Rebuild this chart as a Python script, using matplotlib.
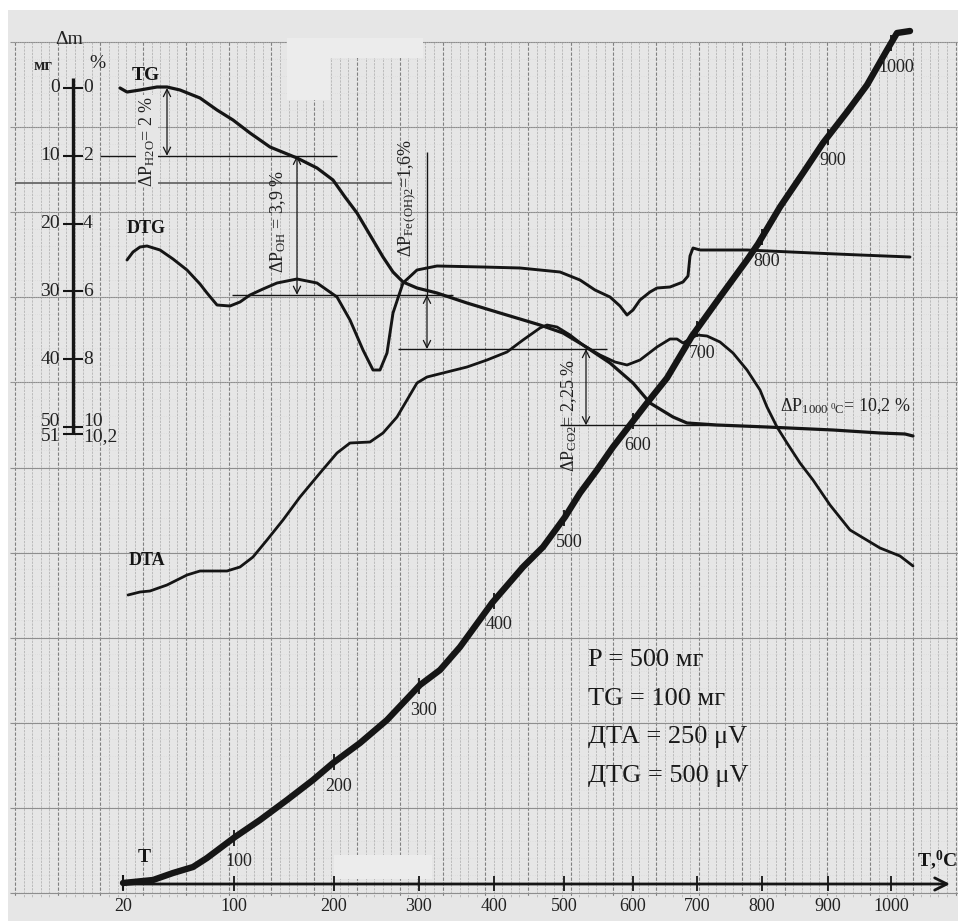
"""
Дериватограмма: TG, DTG, DTA и кривая нагрева T
"""

import numpy as np
import matplotlib
matplotlib.use('Agg')
import matplotlib.pyplot as plt
from matplotlib.patches import Rectangle

plt.rcParams['font.family'] = ['Liberation Serif', 'DejaVu Serif']
plt.rcParams['mathtext.fontset'] = 'custom'
plt.rcParams['mathtext.rm'] = 'Liberation Serif'
plt.rcParams['mathtext.it'] = 'Liberation Serif:italic'
plt.rcParams['mathtext.bf'] = 'Liberation Serif:bold'

# координаты на ленте самописца (по горизонтали - время записи, по вертикали - вниз)
TG_X = [120, 127, 140, 157, 167, 180, 200, 217, 233, 250, 270, 297, 317, 333, 345,
        357, 370, 383, 393, 403, 417, 437, 467, 500, 540, 563, 583, 610, 633, 650,
        673, 687, 717, 767, 833, 880, 905, 913]
TG_Y = [88, 92, 90, 87, 87, 90, 98, 110, 120, 133, 147, 158, 168, 180, 197,
        213, 235, 257, 272, 282, 288, 293, 303, 313, 325, 333, 345, 363, 383, 403,
        417, 423, 425, 427, 430, 433, 434, 436]

DTG_X = [127, 133, 140, 147, 160, 173, 187, 200, 207, 217, 230, 240, 250, 263, 277,
         297, 317, 337, 350, 363, 373, 380, 387, 393, 403, 417, 437, 483, 520, 560,
         580, 595, 610, 620, 627, 633, 640, 650, 657, 670, 683, 688, 690, 693, 700,
         747, 813, 860, 910]
DTG_Y = [260, 252, 247, 246, 250, 259, 270, 284, 293, 305, 306, 302, 295, 289, 283,
         279, 283, 297, 320, 350, 370, 370, 353, 313, 283, 270, 266, 267, 268, 272,
         280, 290, 297, 306, 315, 310, 300, 292, 288, 287, 282, 276, 256, 248, 250,
         250, 253, 255, 257]

DTA_X = [128, 140, 150, 167, 187, 200, 227, 240, 253, 267, 283, 300, 320, 337, 350,
         370, 383, 397, 407, 417, 427, 447, 467, 487, 507, 523, 540, 547, 557, 570,
         583, 600, 615, 627, 640, 657, 670, 677, 683, 697, 707, 720, 733, 747, 760,
         767, 777, 787, 800, 813, 830, 850, 880, 900, 913]
DTA_Y = [595, 592, 591, 585, 575, 571, 571, 567, 557, 540, 520, 497, 473, 453, 443,
         442, 433, 417, 400, 383, 377, 372, 367, 360, 352, 340, 328, 325, 327, 335,
         345, 355, 362, 365, 360, 347, 339, 339, 343, 335, 336, 342, 353, 370, 390,
         407, 427, 443, 463, 480, 505, 530, 548, 556, 566]

T_X = [123, 153, 173, 193, 207, 235, 260, 287, 313, 333, 360, 387, 420, 440, 460,
       492, 523, 543, 565, 580, 597, 613, 630, 647, 667, 692, 720, 747, 758, 780,
       803, 823, 847, 867, 887, 897, 910]
T_Y = [883, 880, 873, 867, 858, 837, 820, 800, 780, 763, 743, 720, 685, 670, 647,
       603, 567, 547, 517, 493, 470, 447, 425, 403, 378, 336, 297, 260, 244, 207,
       173, 143, 112, 85, 50, 33, 31]

# шкала температуры (нижняя ось) и отметки на кривой T
T_LABELS = [20, 100, 200, 300, 400, 500, 600, 700, 800, 900, 1000]
T_POS = [123, 234, 334, 419, 494, 564, 633, 697, 762, 828, 891]

# шкала потери массы
DM_MG = ['0', '10', '20', '30', '40', '50', '51']
DM_PCT = [0, 2, 4, 6, 8, 10, 10.2]
DM_PCT_TXT = ['0', '2', '4', '6', '8', '10', '10,2']

# ступени потери массы, % (уровни горизонталей)
LOSS_LEVELS = [0.0, 2.0, 6.1, 7.7, 9.95]
LOSS_ARROW_X = [167, 297, 427, 586]
LOSS_LINE_X = [(100, 337), (232, 453), (398, 607), (560, 720)]

PARAMS = ['P = 500 мг', 'TG = 100 мг', 'ДТА = 250 μV', 'ДТG = 500 μV']

PAPER = '#e6e6e6'
INK = '#151515'
Y0, PX_PER_PCT = 88, 33.9


def pct_to_y(p):
    return Y0 + np.asarray(p, dtype=float) * PX_PER_PCT


fig = plt.figure(figsize=(9.58, 9.21), dpi=100)
fig.patch.set_facecolor('white')
ax = fig.add_axes([0, 0, 1, 1])
ax.set_xlim(0, 958)
ax.set_ylim(921, 0)
ax.axis('off')

# бумага и сетка
ax.add_patch(Rectangle((8, 10), 950, 911, facecolor=PAPER, edgecolor='none', zorder=0))
gx = np.arange(15, 958, 8.55)
for i, x in enumerate(gx):
    major = (i % 5 == 0)
    ax.vlines(x, 42, 897, colors='#808080' if major else '#b0b0b0',
              lw=0.8 if major else 0.55, linestyles=(0, (3, 1.5)), zorder=1)
ax.hlines(np.arange(42, 900, 85.1), 10, 958, colors='#8e8e8e', lw=0.8, zorder=1)
ax.hlines(np.arange(42, 900, 17.0), 10, 958, colors='#cecece', lw=0.4,
          linestyles=(0, (1, 3)), zorder=1)
ax.hlines(183, 15, 392, colors='#505050', lw=1.1, zorder=2)
ax.add_patch(Rectangle((287, 38), 43, 62, facecolor='#ececec', edgecolor='none', zorder=1.5))
ax.add_patch(Rectangle((330, 38), 93, 20, facecolor='#ececec', edgecolor='none', zorder=1.5))
ax.add_patch(Rectangle((334, 855), 98, 24, facecolor='#ececec', edgecolor='none', zorder=1.5))

# кривые
ax.plot(TG_X, TG_Y, color=INK, lw=2.3, zorder=5, solid_capstyle='round')
ax.plot(DTG_X, DTG_Y, color=INK, lw=2.1, zorder=5, solid_capstyle='round')
ax.plot(DTA_X, DTA_Y, color=INK, lw=2.0, zorder=5, solid_capstyle='round')
ax.plot(T_X, T_Y, color=INK, lw=4.6, zorder=6, solid_capstyle='round')

# отметки температуры на кривой T
for t, x in zip(T_LABELS[1:], T_POS[1:]):
    y = np.interp(x, T_X, T_Y)
    ax.vlines(x, y - 8, y + 8, colors=INK, lw=1.3, zorder=7)
    ax.text(x + 5, y + 24, str(t), fontsize=13, ha='center', va='center',
            color='#222222', zorder=8)
ax.vlines(T_X[0], T_Y[0] - 8, T_Y[0] + 7, colors=INK, lw=1.5, zorder=7)

# нижняя ось температуры
ax.annotate('', xy=(950, 884), xytext=(T_POS[0], 884),
            arrowprops=dict(arrowstyle='->', lw=2.0, color=INK, shrinkA=0, shrinkB=0,
                            mutation_scale=22), zorder=6)
for t, x in zip(T_LABELS, T_POS):
    ax.vlines(x, 876, 891, colors=INK, lw=1.3, zorder=6)
    ax.text(x, 906, str(t), fontsize=13, ha='center', va='center', color='#222222')
ax.text(957, 860, r'T,$^{\mathbf{0}}$C', fontsize=14, fontweight='bold', ha='right',
        va='center', color=INK)

# шкала потери массы слева
ys = pct_to_y(DM_PCT)
ax.vlines(73, 78, ys[-1], colors=INK, lw=2.4, zorder=6)
for mg, p, y in zip(DM_MG, DM_PCT_TXT, ys):
    ax.hlines(y, 63, 83, colors=INK, lw=1.5, zorder=6)
    dy = 0
    if mg == '50':
        dy = -6
    elif mg == '51':
        dy = 3
    ax.text(60, y + dy, mg, fontsize=14, ha='right', va='center', color='#222222')
    ax.text(83, y + dy, p, fontsize=14, ha='left', va='center', color='#222222')
ax.text(69, 40, 'Δm', fontsize=14, ha='center', va='center', color='#222222')
ax.text(43, 66, 'мг', fontsize=12, fontweight='bold', ha='center', va='center', color='#222222')
ax.text(97, 64, '%', fontsize=14, ha='center', va='center', color='#222222')

# подписи кривых
ax.text(132, 75, 'TG', fontsize=14, fontweight='bold', ha='left', va='center', color=INK)
ax.text(127, 228, 'DTG', fontsize=13, fontweight='bold', ha='left', va='center', color=INK)
ax.text(129, 560, 'DTA', fontsize=13, fontweight='bold', ha='left', va='center', color=INK)
ax.text(138, 857, 'T', fontsize=14, fontweight='bold', ha='left', va='center', color=INK)

# ступени потери массы
lv = pct_to_y(LOSS_LEVELS)
for (x1, x2), y in zip(LOSS_LINE_X, lv[1:]):
    ax.hlines(y, x1, x2, colors=INK, lw=1.0, zorder=4)
for x, y1, y2 in zip(LOSS_ARROW_X, lv[:-1], lv[1:]):
    ax.annotate('', xy=(x, y2), xytext=(x, y1),
                arrowprops=dict(arrowstyle='<->', lw=0.9, color=INK, shrinkA=0, shrinkB=0,
                                mutation_scale=13), zorder=4)
ax.vlines(LOSS_ARROW_X[2], 152, lv[2], colors=INK, lw=1.0, zorder=4)

box = dict(facecolor=PAPER, edgecolor='none', pad=0.5)
ax.text(147, 141, r'ΔP$_{\mathrm{H2O}}$= 2 %', fontsize=13, rotation=90,
        ha='center', va='center', color='#222222', bbox=box, zorder=5)
ax.text(278, 222, r'ΔP$_{\mathrm{OH}}$ = 3,9 %', fontsize=13, rotation=90,
        ha='center', va='center', color='#222222', zorder=5)
ax.text(407, 198, r'ΔP$_{\mathrm{Fe\,(OH)2}}$=1,6%', fontsize=13, rotation=90,
        ha='center', va='center', color='#222222', zorder=5)
ax.text(569, 415, r'ΔP$_{\mathrm{CO2}}$= 2,25 %', fontsize=13, rotation=90,
        ha='center', va='center', color='#222222', zorder=5)
ax.text(780, 406, r'ΔP$_{\mathrm{1000\ ^0C}}$= 10,2 %', fontsize=13,
        ha='left', va='center', color='#222222', zorder=5)

# параметры съёмки
for i, s in enumerate(PARAMS):
    ax.text(588, 660 + i * 38.5, s, fontsize=19, ha='left', va='center', color='#1a1a1a',
            zorder=5)

fig.savefig('out.png', dpi=100, facecolor='white')
plt.close(fig)
